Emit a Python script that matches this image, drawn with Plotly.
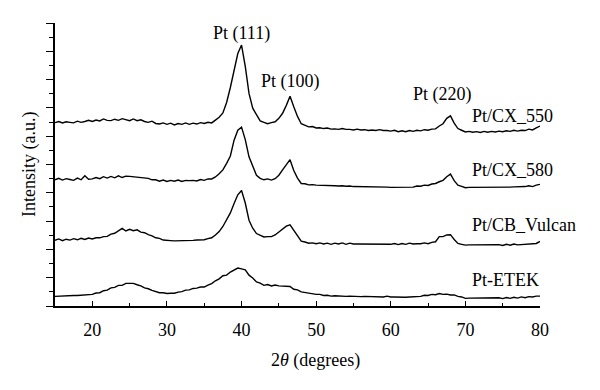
import numpy as np
import plotly.graph_objects as go

# 2-theta sampling (degrees)
two_theta = np.arange(15.0, 80.001, 0.5)

cx550 = [
    6.48, 6.52, 6.47, 6.51, 6.49, 6.47, 6.53, 6.49, 6.52, 6.56,
    6.52, 6.57, 6.54, 6.61, 6.56, 6.55, 6.60, 6.56, 6.62, 6.58,
    6.55, 6.61, 6.55, 6.58, 6.52, 6.49, 6.53, 6.45, 6.43, 6.47,
    6.42, 6.46, 6.40, 6.45, 6.42, 6.47, 6.42, 6.46, 6.43, 6.48,
    6.45, 6.49, 6.47, 6.57, 6.67, 6.82, 7.19, 7.72, 8.29, 8.92,
    9.22, 8.47, 7.51, 6.99, 6.76, 6.54, 6.49, 6.44, 6.48, 6.51,
    6.63, 6.81, 7.09, 7.41, 7.04, 6.70, 6.44, 6.39, 6.33, 6.34,
    6.29, 6.30, 6.27, 6.29, 6.25, 6.26, 6.24, 6.27, 6.24, 6.24,
    6.22, 6.25, 6.22, 6.23, 6.20, 6.22, 6.20, 6.23, 6.20, 6.20,
    6.18, 6.21, 6.16, 6.19, 6.16, 6.20, 6.17, 6.21, 6.19, 6.23,
    6.21, 6.25, 6.26, 6.36, 6.44, 6.63, 6.72, 6.46, 6.27, 6.21,
    6.15, 6.17, 6.14, 6.16, 6.13, 6.17, 6.14, 6.17, 6.15, 6.18,
    6.16, 6.19, 6.17, 6.21, 6.18, 6.21, 6.20, 6.25, 6.22, 6.29,
    6.36,
]

cx580 = [
    4.46, 4.51, 4.45, 4.50, 4.47, 4.44, 4.52, 4.46, 4.60, 4.48,
    4.49, 4.54, 4.50, 4.57, 4.52, 4.58, 4.53, 4.60, 4.54, 4.59,
    4.58, 4.57, 4.54, 4.54, 4.52, 4.51, 4.46, 4.46, 4.41, 4.45,
    4.40, 4.44, 4.41, 4.45, 4.40, 4.44, 4.43, 4.44, 4.42, 4.47,
    4.44, 4.49, 4.49, 4.56, 4.67, 4.81, 5.04, 5.30, 5.86, 6.21,
    6.32, 5.88, 5.27, 4.93, 4.62, 4.51, 4.46, 4.49, 4.45, 4.50,
    4.62, 4.81, 4.97, 5.17, 4.79, 4.52, 4.33, 4.32, 4.28, 4.29,
    4.27, 4.27, 4.26, 4.26, 4.25, 4.25, 4.24, 4.25, 4.23, 4.24,
    4.22, 4.22, 4.21, 4.21, 4.21, 4.20, 4.20, 4.21, 4.21, 4.20,
    4.19, 4.19, 4.20, 4.20, 4.21, 4.21, 4.20, 4.24, 4.23, 4.27,
    4.26, 4.31, 4.33, 4.39, 4.44, 4.57, 4.66, 4.43, 4.27, 4.23,
    4.18, 4.19, 4.19, 4.18, 4.18, 4.19, 4.19, 4.20, 4.20, 4.20,
    4.19, 4.20, 4.20, 4.21, 4.21, 4.22, 4.22, 4.25, 4.22, 4.27,
    4.30,
]

cb_vulcan = [
    2.32, 2.37, 2.31, 2.36, 2.33, 2.38, 2.34, 2.39, 2.35, 2.40,
    2.37, 2.41, 2.41, 2.45, 2.46, 2.54, 2.57, 2.65, 2.74, 2.65,
    2.71, 2.66, 2.69, 2.61, 2.59, 2.52, 2.48, 2.41, 2.39, 2.33,
    2.31, 2.31, 2.30, 2.30, 2.31, 2.31, 2.32, 2.32, 2.33, 2.33,
    2.34, 2.38, 2.41, 2.51, 2.63, 2.81, 3.04, 3.29, 3.62, 3.93,
    4.08, 3.64, 3.03, 2.75, 2.56, 2.49, 2.44, 2.45, 2.45, 2.51,
    2.62, 2.73, 2.82, 2.87, 2.68, 2.49, 2.29, 2.26, 2.22, 2.23,
    2.20, 2.23, 2.19, 2.22, 2.18, 2.22, 2.19, 2.23, 2.18, 2.22,
    2.19, 2.19, 2.19, 2.20, 2.20, 2.19, 2.19, 2.20, 2.20, 2.20,
    2.18, 2.21, 2.17, 2.21, 2.18, 2.22, 2.19, 2.20, 2.20, 2.23,
    2.20, 2.25, 2.27, 2.45, 2.45, 2.51, 2.52, 2.35, 2.21, 2.18,
    2.15, 2.16, 2.16, 2.16, 2.15, 2.15, 2.15, 2.16, 2.16, 2.17,
    2.14, 2.18, 2.15, 2.19, 2.16, 2.17, 2.17, 2.18, 2.18, 2.21,
    2.28,
]

etek = [
    0.34, 0.35, 0.35, 0.36, 0.36, 0.37, 0.37, 0.38, 0.38, 0.41,
    0.41, 0.46, 0.47, 0.54, 0.56, 0.64, 0.66, 0.73, 0.73, 0.80,
    0.81, 0.80, 0.75, 0.71, 0.64, 0.61, 0.55, 0.52, 0.47, 0.47,
    0.44, 0.45, 0.45, 0.49, 0.51, 0.56, 0.57, 0.62, 0.63, 0.67,
    0.67, 0.74, 0.79, 0.89, 0.96, 1.07, 1.09, 1.20, 1.26, 1.34,
    1.31, 1.28, 1.09, 0.99, 0.85, 0.81, 0.73, 0.76, 0.71, 0.74,
    0.71, 0.71, 0.70, 0.69, 0.59, 0.57, 0.50, 0.48, 0.44, 0.44,
    0.41, 0.41, 0.37, 0.38, 0.35, 0.36, 0.35, 0.35, 0.34, 0.35,
    0.34, 0.34, 0.33, 0.34, 0.34, 0.33, 0.33, 0.34, 0.32, 0.35,
    0.32, 0.32, 0.31, 0.31, 0.31, 0.32, 0.32, 0.33, 0.34, 0.38,
    0.37, 0.41, 0.40, 0.44, 0.41, 0.42, 0.39, 0.39, 0.34, 0.32,
    0.27, 0.28, 0.28, 0.28, 0.27, 0.27, 0.27, 0.28, 0.28, 0.29,
    0.26, 0.30, 0.27, 0.31, 0.28, 0.32, 0.29, 0.33, 0.32, 0.35,
    0.35,
]

series = [cx550, cx580, cb_vulcan, etek]
series_labels = ["Pt/CX_550", "Pt/CX_580", "Pt/CB_Vulcan", "Pt-ETEK"]
label_y = [6.71, 4.81, 2.86, 0.92]
label_x = 70.6

peak_labels = ["Pt (111)", "Pt (100)", "Pt (220)"]
peak_x = [40.0, 46.6, 66.9]
peak_y = [9.62, 7.95, 7.49]

x_tick_vals = [20, 30, 40, 50, 60, 70, 80]

FONT = "Liberation Serif, Times New Roman, serif"
FS = 18

# page offset (body margin) compensation
OFF = 8
W, H = 600, 390
L, R, T, B = 55 - OFF, 60 + OFF, 23 - OFF, 84 + OFF
pw, ph = W - L - R, H - T - B

fig = go.Figure()
for ys, name in zip(series, series_labels):
    fig.add_trace(go.Scatter(x=two_theta, y=ys, mode="lines", name=name,
                             line=dict(color="black", width=1.4),
                             showlegend=False))

annotations = []
for t, xx, yy in zip(peak_labels, peak_x, peak_y):
    annotations.append(dict(text=t, x=xx, y=yy, xref="x", yref="y",
                            showarrow=False, xanchor="center", yanchor="middle",
                            font=dict(family=FONT, size=FS, color="black")))
for t, yy in zip(series_labels, label_y):
    annotations.append(dict(text=t, x=label_x, y=yy, xref="x", yref="y",
                            showarrow=False, xanchor="left", yanchor="middle",
                            font=dict(family=FONT, size=FS, color="black")))


def paper_x(px):
    return (px - OFF - L) / pw


def paper_y(py):
    return (H - B - (py - OFF)) / ph


annotations.append(dict(text="2<i>θ</i> (degrees)", x=paper_x(315), y=paper_y(360),
                        xref="paper", yref="paper", showarrow=False,
                        xanchor="center", yanchor="middle",
                        font=dict(family=FONT, size=FS, color="black")))
annotations.append(dict(text="Intensity (a.u.)", x=paper_x(29), y=paper_y(165),
                        xref="paper", yref="paper", showarrow=False,
                        xanchor="center", yanchor="middle", textangle=-90,
                        font=dict(family=FONT, size=FS, color="black")))

fig.update_layout(
    width=W, height=H,
    margin=dict(l=L, r=R, t=T, b=B),
    paper_bgcolor="white", plot_bgcolor="white",
    font=dict(family=FONT, size=FS, color="black"),
    annotations=annotations,
    xaxis=dict(range=[15, 80], tickvals=x_tick_vals, ticks="inside", ticklen=5,
               tickwidth=1.3, tickcolor="black", showline=True, linecolor="black",
               linewidth=1.6, showgrid=False, zeroline=False, mirror=False,
               ticklabelstandoff=7,
               tickfont=dict(family=FONT, size=FS, color="black"),
               minor=dict(ticks="inside", dtick=5, tick0=15, ticklen=3,
                          tickwidth=1.2, tickcolor="black", showgrid=False)),
    yaxis=dict(range=[0, 10], dtick=1, tick0=0, ticks="outside", ticklen=7,
               tickwidth=1.3, tickcolor="black", showline=True, linecolor="black",
               linewidth=1.6, showgrid=False, zeroline=False, showticklabels=False,
               minor=dict(ticks="outside", dtick=0.5, tick0=0, ticklen=4,
                          tickwidth=1.2, tickcolor="black", showgrid=False)),
)

fig.write_html("out.html")
